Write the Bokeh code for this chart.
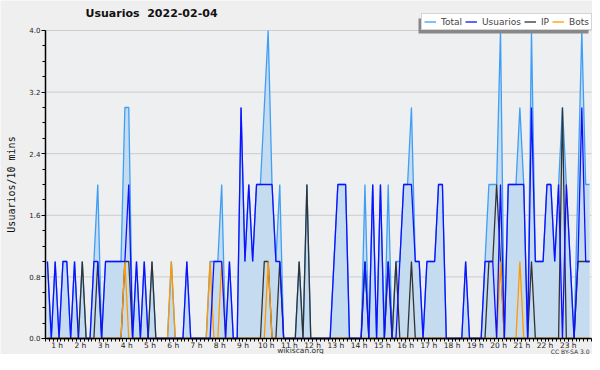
import math
from bokeh.plotting import figure
from bokeh.models import (ColumnDataSource, FixedTicker, Legend, LegendItem, Label,
                          Range1d, NumeralTickFormatter, BoxAnnotation)
from bokeh.embed import file_html
from bokeh.resources import INLINE

# 10-minute bins of 2022-02-04, from 00:30 to 24:00 (value plotted at bin centre)
bin_start_hour = 0.5
bin_minutes = 10

usuarios = [1,0,1,0,1,1,0,1,0,0, 0,0,1,1,0,1,1,1,1,1, 1,2,0,1,0,1,0,0,0,0,
            0,0,0,0,0,0,1,0,0,0, 0,0,0,1,1,1,0,1,0,0, 3,1,2,1,2,2,2,2,2,1,
            1,0,0,0,0,0,0,0,0,0, 0,0,0,0,1,2,2,2,0,0, 0,0,1,0,2,0,2,0,1,0,
            0,1,2,2,2,1,1,0,1,1, 1,2,2,0,0,0,0,0,1,0, 0,0,0,1,1,1,0,2,0,2,
            2,2,2,2,0,3,1,1,1,2, 2,1,2,0,2,1,0,1,3,1, 1]
ip       = [0,0,0,0,0,0,0,0,0,1, 0,0,0,1,0,0,0,0,0,0, 1,1,0,0,0,0,0,1,0,0,
            0,0,0,0,0,0,0,0,0,0, 0,0,0,0,0,0,0,0,0,0, 0,0,0,0,0,0,1,1,0,0,
            1,0,0,0,0,1,0,2,0,0, 0,0,0,0,0,0,0,0,0,0, 0,0,1,0,0,0,0,0,1,0,
            1,0,0,0,1,0,0,0,0,0, 0,0,0,0,0,0,0,0,0,0, 0,0,0,0,1,1,2,1,0,0,
            0,0,0,0,0,1,0,0,0,0, 0,0,0,3,0,0,0,1,1,1, 1]
bots     = [0,0,0,0,0,0,0,0,0,0, 0,0,0,0,0,0,0,0,0,0, 1,0,0,0,0,0,0,0,0,0,
            0,0,1,0,0,0,0,0,0,0, 0,0,1,0,0,1,0,0,0,0, 0,0,0,0,0,0,0,1,0,0,
            0,0,0,0,0,0,0,0,0,0, 0,0,0,0,0,0,0,0,0,0, 0,0,0,0,0,0,0,0,0,0,
            0,0,0,0,0,0,0,0,0,0, 0,0,0,0,0,0,0,0,0,0, 0,0,0,0,0,0,0,1,0,0,
            0,0,1,0,0,0,0,0,0,0, 0,0,0,0,0,0,0,0,0,0, 0]
total    = [1,0,1,0,1,1,0,1,0,1, 0,0,1,2,0,1,1,1,1,1, 3,3,0,1,0,1,0,1,0,0,
            0,0,1,0,0,0,1,0,0,0, 0,0,1,1,1,2,0,1,0,0, 3,1,2,1,2,2,3,4,2,1,
            2,0,0,0,0,1,0,2,0,0, 0,0,0,0,1,2,2,2,0,0, 0,0,2,0,2,0,2,0,2,0,
            1,1,2,2,3,1,1,0,1,1, 1,2,2,0,0,0,0,0,1,0, 0,0,0,1,2,2,2,4,0,2,
            2,2,3,2,0,4,1,1,1,2, 2,1,2,3,2,1,0,2,4,2, 2]

hour_ticks = list(range(1, 24))
hour_labels = {h: f"{h} h" for h in hour_ticks}
y_ticks = [0.0, 0.8, 1.6, 2.4, 3.2, 4.0]
x_lo, x_hi = 0.5, 24.0
y_lo, y_hi = 0.0, 4.0

hours = [bin_start_hour + (i + 0.5) * bin_minutes / 60 for i in range(len(total))]
src = ColumnDataSource(dict(x=hours, total=total, usuarios=usuarios, ip=ip, bots=bots,
                            zero=[0] * len(total)))

# the frame fills the whole canvas; axes are pinned inside it
p = figure(width=592, height=354, output_backend="svg", toolbar_location=None,
           x_range=Range1d(-1.4368, 24.043), y_range=Range1d(-0.2078, 4.3896),
           min_border_left=0, min_border_right=0, min_border_top=0, min_border_bottom=0,
           background_fill_color="#efefef", border_fill_color="#efefef",
           outline_line_color=None)
p.title.visible = False

p.add_layout(BoxAnnotation(left=x_lo, right=x_hi, bottom=y_lo, top=y_hi,
                           fill_color="#edeff1", fill_alpha=1.0, line_color=None,
                           level="image"))
p.segment(x0=[x_lo] * len(y_ticks), y0=y_ticks, x1=[x_hi] * len(y_ticks), y1=y_ticks,
          line_color="#cccccc", line_width=1, level="underlay")

p.varea(x="x", y1="zero", y2="total", source=src, fill_color="#c5dcf0")
r_total = p.line("x", "total", source=src, line_color="#3f9ef5", line_width=1.3)
r_ip = p.line("x", "ip", source=src, line_color="#333333", line_width=1.3)
r_bots = p.line("x", "bots", source=src, line_color="#ff9900", line_width=1.3)
r_usu = p.line("x", "usuarios", source=src, line_color="#1010ff", line_width=1.3)

# axes
p.xgrid.visible = False
p.ygrid.visible = False

xa = p.xaxis[0]
xa.fixed_location = 0
xa.bounds = (x_lo, x_hi)
xa.ticker = FixedTicker(ticks=hour_ticks,
                        minor_ticks=[bin_start_hour + k * bin_minutes / 60 for k in range(142)])
xa.major_label_overrides = hour_labels
xa.major_label_text_font = "DejaVu Sans"
xa.major_label_text_font_size = "7.5px"
xa.major_label_text_color = "#222222"
xa.major_label_standoff = 0
xa.major_tick_out = 3
xa.major_tick_in = 0
xa.minor_tick_out = 3
xa.minor_tick_in = 0
xa.axis_line_width = 1.5
xa.axis_line_color = "#000000"

ya = p.yaxis[0]
ya.fixed_location = 0.5
ya.bounds = (y_lo, y_hi)
ya.ticker = FixedTicker(ticks=y_ticks, minor_ticks=[k * 0.2 for k in range(21)])
ya.formatter = NumeralTickFormatter(format="0.0")
ya.major_label_text_font = "DejaVu Sans"
ya.major_label_text_font_size = "7px"
ya.major_label_text_color = "#222222"
ya.major_label_standoff = 1
ya.major_tick_out = 4
ya.major_tick_in = 0
ya.minor_tick_out = 3
ya.minor_tick_in = 0
ya.axis_line_width = 1.5
ya.axis_line_color = "#000000"

# texts (screen units measured from the bottom-left of the canvas)
p.add_layout(Label(x=85, y=341, x_units="screen", y_units="screen",
                   text="Usuarios\u00a0 2022-02-04", text_font="DejaVu Sans",
                   text_font_size="11px", text_font_style="bold", text_color="#111111",
                   text_align="left", text_baseline="middle"))
p.add_layout(Label(x=10.5, y=170, x_units="screen", y_units="screen",
                   text="Usuarios/10 mins", angle=math.pi / 2,
                   text_font="DejaVu Sans Mono", text_font_size="10px", text_color="#111111",
                   text_align="center", text_baseline="middle"))
p.add_layout(Label(x=300, y=4, x_units="screen", y_units="screen", text="wikiscan.org",
                   text_font="DejaVu Sans", text_font_size="7.5px", text_color="#333333",
                   text_align="center", text_baseline="middle"))
p.add_layout(Label(x=589, y=3.5, x_units="screen", y_units="screen", text="CC BY-SA 3.0",
                   text_font="DejaVu Sans", text_font_size="6px", text_color="#333333",
                   text_align="right", text_baseline="middle"))

# legend with its drop shadow
p.add_layout(BoxAnnotation(left=418, right=588, bottom=321, top=336,
                           left_units="screen", right_units="screen",
                           bottom_units="screen", top_units="screen",
                           fill_color="#888888", fill_alpha=1.0, line_color=None))
legend = Legend(items=[LegendItem(label="Total", renderers=[r_total]),
                       LegendItem(label="Usuarios", renderers=[r_usu]),
                       LegendItem(label="IP", renderers=[r_ip]),
                       LegendItem(label="Bots", renderers=[r_bots])],
                orientation="horizontal", location=(421, 324),
                label_text_font="DejaVu Sans", label_text_font_size="9px",
                label_standoff=5, glyph_width=12, glyph_height=9, spacing=3,
                padding=2, margin=0, border_line_color="#aaaaaa",
                background_fill_color="#ffffff", background_fill_alpha=1.0,
                label_height=11, label_width=1)
p.add_layout(legend, "center")

open("out.html", "w").write(file_html(p, INLINE))
